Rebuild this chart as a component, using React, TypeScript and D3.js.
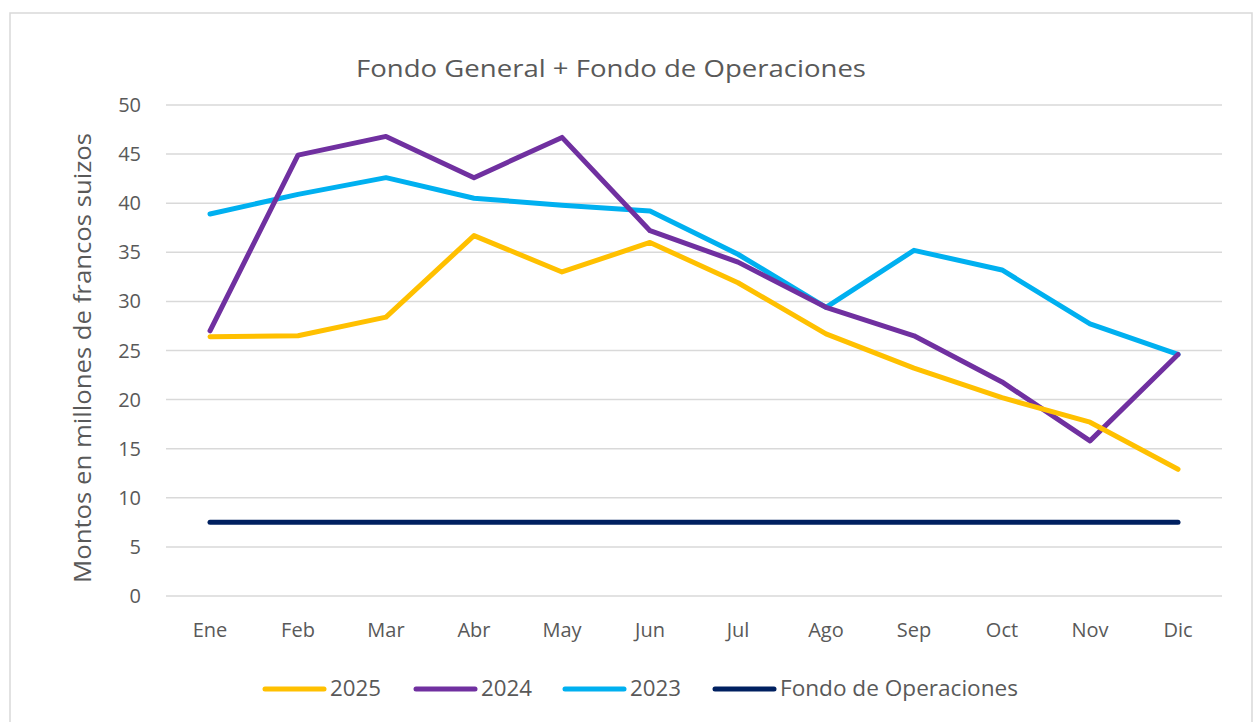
import React from "react";
import * as d3 from "d3";

const months = ["Ene", "Feb", "Mar", "Abr", "May", "Jun", "Jul", "Ago", "Sep", "Oct", "Nov", "Dic"];
const s2025 = [26.4, 26.5, 28.4, 36.7, 33.0, 36.0, 31.9, 26.7, 23.2, 20.2, 17.7, 12.9];
const s2024 = [27.0, 44.9, 46.8, 42.6, 46.7, 37.2, 34.0, 29.4, 26.5, 21.8, 15.8, 24.6];
const s2023 = [38.9, 40.9, 42.6, 40.5, 39.8, 39.2, 34.8, 29.4, 35.2, 33.2, 27.7, 24.6];
const fondoOp = [7.5, 7.5, 7.5, 7.5, 7.5, 7.5, 7.5, 7.5, 7.5, 7.5, 7.5, 7.5];
const yTicks = [0, 5, 10, 15, 20, 25, 30, 35, 40, 45, 50];

const series = [
  { name: "2025", values: s2025, color: "#FFC000" },
  { name: "2024", values: s2024, color: "#7030A0" },
  { name: "2023", values: s2023, color: "#00B0F0" },
  { name: "Fondo de Operaciones", values: fondoOp, color: "#002060" },
];

const legendX = [265, 416, 565, 715];
const legendTextLen = [51, 51, 51, 238];

export default function App() {
  const W = 1254, H = 722;
  const x = d3.scaleBand<string>().domain(months).range([166, 1222]);
  const y = d3.scaleLinear().domain([0, 50]).range([596, 105]);
  const line = d3
    .line<number>()
    .x((_, i) => (x(months[i]) as number) + x.bandwidth() / 2)
    .y((d) => y(d));
  const font = "'Open Sans', sans-serif";
  const textColor = "#595959";
  return (
    <svg width={W} height={H} style={{ position: "absolute", left: 0, top: 0, background: "#fff" }}>
      <rect x={10} y={13} width={1242} height={730} fill="#fff" stroke="#D9D9D9" strokeWidth={1.5} />
      <text x={611} y={77} textAnchor="middle" fontFamily={font} fontSize={24} fill={textColor} textLength={510} lengthAdjust="spacingAndGlyphs">
        Fondo General + Fondo de Operaciones
      </text>
      {yTicks.map((t) => (
        <g key={t}>
          <line x1={166} x2={1222} y1={y(t)} y2={y(t)} stroke="#D9D9D9" strokeWidth={1.5} />
          <text x={141} y={y(t)} dy="0.35em" textAnchor="end" fontFamily={font} fontSize={20} fill={textColor}>
            {t}
          </text>
        </g>
      ))}
      {months.map((m) => (
        <text key={m} x={(x(m) as number) + x.bandwidth() / 2} y={637} textAnchor="middle" fontFamily={font} fontSize={20} fill={textColor}>
          {m}
        </text>
      ))}
      <text transform={`translate(91,358) rotate(-90)`} textAnchor="middle" fontFamily={font} fontSize={24} fill={textColor} textLength={450} lengthAdjust="spacingAndGlyphs">
        Montos en millones de francos  suizos
      </text>
      {series.slice().reverse().map((s) => (
        <path key={s.name} d={line(s.values) || ""} fill="none" stroke={s.color} strokeWidth={5} strokeLinejoin="round" strokeLinecap="round" />
      ))}
      {series.map((s, i) => (
        <g key={s.name}>
          <line x1={legendX[i]} x2={legendX[i] + 59} y1={689} y2={689} stroke={s.color} strokeWidth={5} strokeLinecap="round" />
          <text x={legendX[i] + 65} y={689} dy="0.35em" fontFamily={font} fontSize={21} fill={textColor} textLength={legendTextLen[i]} lengthAdjust="spacingAndGlyphs">
            {s.name}
          </text>
        </g>
      ))}
    </svg>
  );
}
